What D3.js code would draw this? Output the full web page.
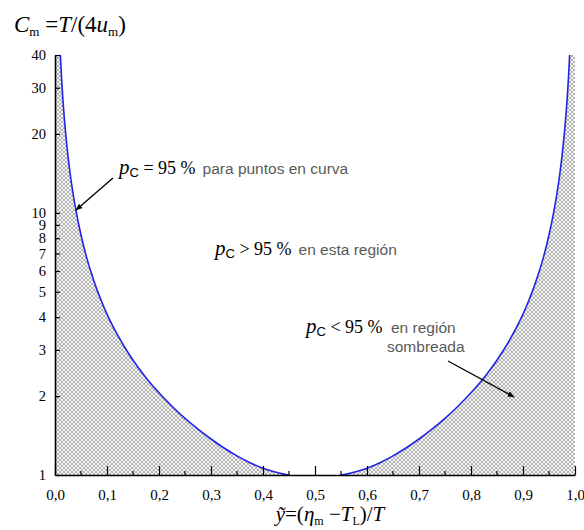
<!DOCTYPE html>
<html>
<head>
<meta charset="utf-8">
<script src="https://cdn.jsdelivr.net/npm/d3@7"></script>
<style>
  html, body { margin: 0; padding: 0; background: #fff; }
  svg { display: block; }
</style>
</head>
<body>
<svg id="chart" width="584" height="530"></svg>
<script>
// 95 % conformance curve, left branch (ỹ, C_m)
const leftY = [0.0103, 0.0125, 0.015, 0.0175, 0.02, 0.025, 0.03, 0.035, 0.04, 0.05, 0.06, 0.07, 0.08, 0.09,
  0.10, 0.12, 0.14, 0.16, 0.18, 0.20, 0.225, 0.25, 0.275, 0.30, 0.325, 0.35, 0.375, 0.40, 0.42, 0.44, 0.45];
const leftC = [40, 32.9, 27.4, 23.5, 20.6, 16.45, 13.7, 11.75, 10.28, 8.23, 6.85, 5.88, 5.14, 4.57,
  4.11, 3.43, 2.94, 2.57, 2.285, 2.06, 1.83, 1.645, 1.496, 1.372, 1.268, 1.183, 1.114, 1.062, 1.031, 1.008, 1.0];

// right branch (ỹ, C_m)
const rightY = [0.55, 0.56, 0.58, 0.60, 0.625, 0.65, 0.675, 0.70, 0.725, 0.75, 0.775, 0.80, 0.82, 0.84, 0.86,
  0.88, 0.90, 0.91, 0.92, 0.93, 0.94, 0.95, 0.96, 0.965, 0.97, 0.975, 0.98, 0.9825, 0.985, 0.9875, 0.9897];
const rightC = [1.0, 1.008, 1.031, 1.062, 1.114, 1.183, 1.268, 1.372, 1.496, 1.645, 1.83, 2.06, 2.285, 2.57, 2.94,
  3.43, 4.11, 4.57, 5.14, 5.88, 6.85, 8.23, 10.28, 11.75, 13.7, 16.45, 20.6, 23.5, 27.4, 32.9, 40];

// axis ticks
const xMajorTicks = [0, 0.1, 0.2, 0.3, 0.4, 0.5, 0.6, 0.7, 0.8, 0.9, 1.0];
const xTickLabels = ["0,0", "0,1", "0,2", "0,3", "0,4", "0,5", "0,6", "0,7", "0,8", "0,9", "1,0"];
const xMinorTicks = [0.05, 0.15, 0.25, 0.35, 0.45, 0.55, 0.65, 0.75, 0.85, 0.95];
const yTicks = [1, 2, 3, 4, 5, 6, 7, 8, 9, 10, 20, 30, 40];
const yTickLabels = ["1", "2", "3", "4", "5", "6", "7", "8", "9", "10", "20", "30", "40"];

const svg = d3.select("#chart");
const serif = "'Liberation Serif', 'Times New Roman', serif";
const sans = "'Liberation Sans', Arial, sans-serif";
const noteColor = "#5a5a5a";
const noteSize = 15.5;

const x = d3.scaleLinear().domain([0, 1]).range([55, 575]);
const y = d3.scaleLog().domain([1, 40]).range([475, 55]);

// cross-hatch fill for the region below the curve
const defs = svg.append("defs");
const pat = defs.append("pattern")
  .attr("id", "hatch").attr("patternUnits", "userSpaceOnUse")
  .attr("width", 4).attr("height", 4);
pat.append("rect").attr("width", 4).attr("height", 4).attr("fill", "#f6f6f6");
pat.append("path").attr("d", "M0,0L4,4M4,0L0,4")
  .attr("stroke", "#a2a2a2").attr("stroke-width", 0.8).attr("fill", "none");

defs.append("marker")
  .attr("id", "arrow").attr("viewBox", "0 0 10 10")
  .attr("refX", 9).attr("refY", 5)
  .attr("markerWidth", 7).attr("markerHeight", 7)
  .attr("markerUnits", "userSpaceOnUse")
  .attr("orient", "auto")
  .append("path").attr("d", "M0,1L10,5L0,9z").attr("fill", "#000");

const left = leftY.map((v, i) => ({ y: v, c: leftC[i] }));
const right = rightY.map((v, i) => ({ y: v, c: rightC[i] }));
const [xMin, xMax] = x.domain();
const [cMin, cMax] = y.domain();

const area = d3.area()
  .x(d => x(d.y)).y0(y(cMin)).y1(d => y(d.c))
  .curve(d3.curveMonotoneX);

svg.append("path")
  .datum([{ y: xMin, c: cMax }, ...left])
  .attr("d", area).attr("fill", "url(#hatch)");
svg.append("path")
  .datum([...right, { y: xMax, c: cMax }])
  .attr("d", area).attr("fill", "url(#hatch)");

const line = d3.line().x(d => x(d.y)).y(d => y(d.c)).curve(d3.curveMonotoneX);
[left, right].forEach(branch => {
  svg.append("path").datum(branch).attr("d", line)
    .attr("fill", "none").attr("stroke", "#2323e6").attr("stroke-width", 1.6);
});

// bottom axis, ticks pointing inward
const xAxis = svg.append("g").attr("transform", `translate(0,${y(cMin)})`);
xAxis.call(d3.axisBottom(x).tickValues(xMajorTicks).tickSize(-9)
  .tickFormat((d, i) => xTickLabels[i]).tickSizeOuter(0));
xAxis.selectAll(".minor").data(xMinorTicks).enter().append("line")
  .attr("class", "minor").attr("x1", d => x(d)).attr("x2", d => x(d))
  .attr("y1", 0).attr("y2", -4).attr("stroke", "#000").attr("stroke-width", 1.2);
xAxis.select(".domain").attr("stroke-width", 1.6);
xAxis.selectAll(".tick line").attr("stroke-width", 1.2);
xAxis.selectAll(".tick text").attr("y", 14).attr("font-family", serif)
  .attr("font-size", 15).attr("fill", "#000");

// left axis, log scale
const yAxis = svg.append("g").attr("transform", `translate(${x(xMin)},0)`);
yAxis.call(d3.axisLeft(y).tickValues(yTicks).tickSize(-5)
  .tickFormat((d, i) => yTickLabels[i]).tickSizeOuter(0));
yAxis.select(".domain").attr("stroke-width", 1.6);
yAxis.selectAll(".tick line").attr("stroke-width", 1.2);
yAxis.selectAll(".tick text").attr("x", -9).attr("font-family", serif)
  .attr("font-size", 14.5).attr("fill", "#000");

// axis titles
const yt = svg.append("text").attr("x", 14).attr("y", 32)
  .attr("font-family", serif).attr("font-size", 23).attr("fill", "#000");
yt.append("tspan").attr("font-style", "italic").text("C");
yt.append("tspan").attr("font-size", 13).attr("dy", 4).text("m");
yt.append("tspan").attr("dy", -4).text(" =");
yt.append("tspan").attr("font-style", "italic").text("T");
yt.append("tspan").text("/(4");
yt.append("tspan").attr("font-style", "italic").text("u");
yt.append("tspan").attr("font-size", 13).attr("dy", 4).text("m");
yt.append("tspan").attr("dy", -4).text(")");

const xt = svg.append("text").attr("x", 330).attr("y", 521).attr("text-anchor", "middle")
  .attr("font-family", serif).attr("font-size", 21).attr("fill", "#000");
xt.append("tspan").attr("font-style", "italic").text("ỹ");
xt.append("tspan").text("=(");
xt.append("tspan").attr("font-style", "italic").text("η");
xt.append("tspan").attr("font-size", 12).attr("dy", 4).text("m");
xt.append("tspan").attr("dy", -4).text(" −");
xt.append("tspan").attr("font-style", "italic").text("T");
xt.append("tspan").attr("font-size", 12).attr("dy", 4).text("L");
xt.append("tspan").attr("dy", -4).text(")/");
xt.append("tspan").attr("font-style", "italic").text("T");

// annotation: p_C followed by a relation and a grey sans note
function pcLabel(px, py, rel, note) {
  const t = svg.append("text").attr("x", px).attr("y", py)
    .attr("font-family", serif).attr("font-size", 21).attr("fill", "#000");
  t.append("tspan").attr("font-style", "italic").text("p");
  t.append("tspan").attr("font-family", sans).attr("font-size", 13).attr("dy", 3).text("C");
  t.append("tspan").attr("dy", -3).attr("font-size", 18).text(rel);
  if (note) {
    t.append("tspan").attr("font-family", sans).attr("font-size", noteSize)
      .attr("fill", noteColor).attr("dx", 7).text(note);
  }
  return t;
}

pcLabel(119, 174, " = 95  %", "para puntos en curva");
svg.append("line").attr("x1", 113).attr("y1", 178).attr("x2", 76).attr("y2", 210)
  .attr("stroke", "#000").attr("stroke-width", 1.3).attr("marker-end", "url(#arrow)");

pcLabel(215, 255, " > 95 %", "en esta región");

pcLabel(306, 333, " < 95 %", null);
svg.append("text").attr("x", 391).attr("y", 333).attr("font-family", sans)
  .attr("font-size", noteSize).attr("fill", noteColor).text("en región");
svg.append("text").attr("x", 387).attr("y", 352).attr("font-family", sans)
  .attr("font-size", noteSize).attr("fill", noteColor).text("sombreada");
svg.append("line").attr("x1", 448).attr("y1", 361).attr("x2", 514).attr("y2", 397)
  .attr("stroke", "#000").attr("stroke-width", 1.3).attr("marker-end", "url(#arrow)");
</script>
</body>
</html>
